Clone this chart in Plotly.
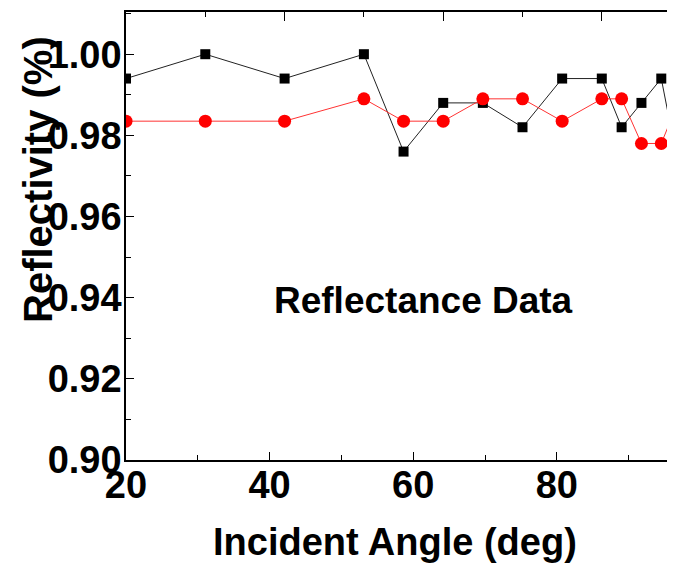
import plotly.graph_objects as go

# Data
angles = [20, 30, 40, 50, 55, 60, 65, 70, 75, 80, 82.5, 85, 87.5, 90]
refl_black = [0.994, 1.000, 0.994, 1.000, 0.976, 0.988, 0.988, 0.982, 0.994, 0.994, 0.982, 0.988, 0.994, 0.969]
refl_red = [0.9835, 0.9835, 0.9835, 0.989, 0.9835, 0.9835, 0.989, 0.989, 0.9835, 0.989, 0.989, 0.978, 0.978, 0.990]
x_ticks = [20, 40, 60, 80]
y_ticks = [0.90, 0.92, 0.94, 0.96, 0.98, 1.00]
y_tick_text = ["0.90", "0.92", "0.94", "0.96", "0.98", "1.00"]

OFF = 8  # page body margin
W, H = 675 - OFF, 563 - OFF
# plot area in screenshot pixels
L, R, T, B = 126, 675, 12, 460
FONT = "Liberation Sans, Arial, sans-serif"


def px(xp):
    return (xp - L) / (R - L)


def py(yp):
    return (B - yp) / (B - T)


fig = go.Figure()
fig.add_trace(go.Scatter(
    x=angles, y=refl_black, xaxis="x2", yaxis="y", mode="lines+markers",
    line=dict(color="#222222", width=1),
    marker=dict(symbol="square", size=10, color="black"),
    showlegend=False,
))
fig.add_trace(go.Scatter(
    x=angles, y=refl_red, xaxis="x2", yaxis="y", mode="lines+markers",
    line=dict(color="#ff3333", width=1),
    marker=dict(symbol="circle", size=13, color="#ff0000"),
    showlegend=False,
))
# invisible trace to activate bottom axis
fig.add_trace(go.Scatter(x=[20], y=[0.95], xaxis="x", yaxis="y", mode="markers",
                         marker=dict(opacity=0), showlegend=False, hoverinfo="skip"))

fig.update_layout(
    width=W, height=H,
    margin=dict(l=L - OFF, r=0, t=T - OFF, b=H - (B - OFF), pad=0),
    paper_bgcolor="white", plot_bgcolor="white",
    font=dict(family=FONT, color="black"),
    xaxis=dict(
        domain=[0, 1], range=[20, 20 + (R - L) / 7.18],
        tickvals=x_ticks, ticks="inside", ticklen=8, tickwidth=1, tickcolor="black",
        minor=dict(dtick=10, tick0=20, ticks="inside", ticklen=5, tickcolor="black"),
        showline=True, linecolor="black", linewidth=1.5,
        showgrid=False, zeroline=False, ticklabelstandoff=-9,
        tickfont=dict(family=FONT, size=38, color="black", weight="bold"),
    ),
    xaxis2=dict(
        overlaying="x", side="top", anchor="y",
        range=[20, 20 + (R - L) / 7.93],
        tickvals=x_ticks, ticks="inside", ticklen=9, tickwidth=1, tickcolor="black",
        minor=dict(dtick=10, tick0=20, ticks="inside", ticklen=5, tickcolor="black"),
        showticklabels=False,
        showline=True, linecolor="black", linewidth=1.5,
        showgrid=False, zeroline=False,
    ),
    yaxis=dict(
        domain=[0, 1], range=[0.90, 1.0104],
        tickvals=y_ticks, ticktext=y_tick_text,
        ticks="inside", ticklen=8, tickwidth=1, tickcolor="black",
        minor=dict(dtick=0.01, tick0=0.90, ticks="inside", ticklen=5, tickcolor="black"),
        showline=True, linecolor="black", linewidth=1.5,
        showgrid=False, zeroline=False, ticklabelstandoff=-5,
        tickfont=dict(family=FONT, size=38, color="black", weight="bold"),
    ),
    annotations=[
        dict(text="Reflectance Data", xref="paper", yref="paper",
             x=px(423.5), y=py(300), xanchor="center", yanchor="middle",
             showarrow=False, font=dict(family=FONT, size=37, color="black", weight="bold")),
        dict(text="Incident Angle (deg)", xref="paper", yref="paper",
             x=px(395), y=py(542), xanchor="center", yanchor="middle",
             showarrow=False, font=dict(family=FONT, size=38, color="black", weight="bold")),
        dict(text="Reflectivity (%)", xref="paper", yref="paper",
             x=px(38), y=py(180), xanchor="center", yanchor="middle", textangle=-90,
             showarrow=False, font=dict(family=FONT, size=40, color="black", weight="bold")),
    ],
)

fig.write_html("out.html")
